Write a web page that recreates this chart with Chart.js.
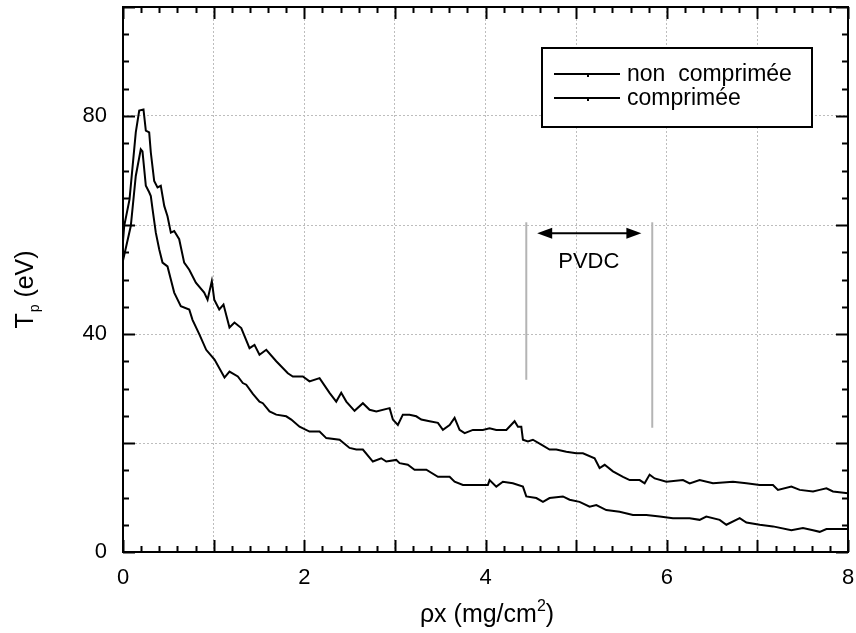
<!DOCTYPE html>
<html lang="fr">
<head>
<meta charset="UTF-8">
<title>Tp en fonction de ρx</title>
<script src="https://cdn.jsdelivr.net/npm/chart.js"></script>
<style>
  body { margin: 0; background: #fff; }
  #wrap { width: 856px; height: 633px; }
</style>
</head>
<body>
<div id="wrap"><canvas id="graphe" width="856" height="633"></canvas></div>
<script>
// valeurs (rho.x en mg/cm2, Tp en eV)
const xNonComp = [0, 0.013, 0.072, 0.141, 0.179, 0.226, 0.252, 0.289, 0.307, 0.344, 0.381, 0.417, 0.455, 0.491, 0.528, 0.565, 0.620, 0.675, 0.731, 0.804,
  0.896, 0.933, 0.980, 1.007, 1.062, 1.109, 1.175, 1.230, 1.305, 1.396, 1.451, 1.506, 1.581, 1.691, 1.819, 1.874, 1.985, 2.058, 2.169, 2.279,
  2.353, 2.408, 2.464, 2.555, 2.647, 2.721, 2.795, 2.942, 2.978, 3.033, 3.088, 3.162, 3.236, 3.291, 3.383, 3.475, 3.530, 3.604, 3.659, 3.714,
  3.770, 3.861, 3.971, 4.045, 4.119, 4.230, 4.321, 4.358, 4.395, 4.413, 4.468, 4.523, 4.616, 4.707, 4.781, 4.892, 5.002, 5.075, 5.204, 5.259,
  5.315, 5.406, 5.517, 5.591, 5.701, 5.756, 5.811, 5.867, 5.996, 6.179, 6.253, 6.363, 6.510, 6.731, 6.879, 7.026, 7.172, 7.227, 7.375, 7.467,
  7.614, 7.688, 7.762, 7.834, 8.0];
const yNonComp = [57, 59.8, 64.7, 77.0, 81.0, 81.2, 77.3, 77.0, 73.3, 68.1, 66.9, 67.2, 63.5, 61.6, 58.6, 58.9, 57.4, 53.1, 51.8, 49.4,
  47.6, 46.3, 49.7, 46.3, 44.5, 45.4, 41.2, 42.1, 41.1, 37.4, 38.0, 36.2, 37.1, 35.0, 32.8, 32.2, 32.2, 31.3, 31.9, 29.2,
  27.6, 29.2, 27.6, 25.9, 27.3, 26.1, 25.8, 26.4, 24.3, 23.3, 25.2, 25.2, 24.9, 24.3, 24.0, 23.7, 22.4, 23.3, 24.6, 22.4,
  21.8, 22.4, 22.4, 22.7, 22.4, 22.4, 24.0, 23.0, 23.0, 20.6, 20.3, 20.6, 19.7, 18.8, 18.8, 18.4, 18.1, 18.1, 17.2, 15.4,
  16.0, 14.8, 13.8, 13.2, 13.2, 12.6, 14.2, 13.5, 12.9, 13.2, 12.6, 13.2, 12.6, 12.9, 12.6, 12.3, 12.3, 11.4, 12.0, 11.4,
  11.1, 11.4, 11.7, 11.1, 10.8];

const xComp = [0, 0.086, 0.141, 0.196, 0.215, 0.252, 0.289, 0.307, 0.326, 0.362, 0.400, 0.436, 0.491, 0.528, 0.565, 0.638, 0.731, 0.767, 0.844, 0.918,
  1.010, 1.120, 1.175, 1.267, 1.322, 1.360, 1.433, 1.506, 1.543, 1.617, 1.691, 1.801, 1.857, 1.948, 2.058, 2.169, 2.243, 2.390, 2.500, 2.574,
  2.647, 2.757, 2.850, 2.905, 3.015, 3.052, 3.143, 3.217, 3.347, 3.475, 3.604, 3.659, 3.751, 3.898, 4.026, 4.045, 4.119, 4.192, 4.302, 4.413,
  4.450, 4.561, 4.634, 4.707, 4.854, 4.928, 5.038, 5.149, 5.223, 5.333, 5.480, 5.627, 5.775, 5.922, 6.068, 6.253, 6.363, 6.436, 6.584, 6.658,
  6.805, 6.879, 7.026, 7.172, 7.375, 7.503, 7.614, 7.688, 7.762, 8.0];
const yComp = [53.5, 59.8, 69.0, 73.9, 73.5, 67.2, 66.0, 65.3, 62.9, 58.6, 55.5, 53.1, 52.4, 50.0, 47.6, 45.1, 44.5, 42.6, 39.9, 37.1,
  35.3, 32.0, 33.1, 32.2, 31.0, 30.7, 29.0, 27.6, 27.3, 25.8, 25.2, 24.9, 24.3, 23.0, 22.1, 22.1, 20.9, 20.6, 19.1, 18.8,
  18.8, 16.6, 17.2, 16.6, 16.9, 16.3, 16.0, 15.1, 15.1, 13.8, 13.8, 12.9, 12.3, 12.3, 12.3, 13.2, 12.0, 12.9, 12.6, 12.0,
  10.2, 9.9, 9.2, 9.9, 10.2, 9.6, 9.2, 8.3, 8.6, 7.7, 7.4, 6.8, 6.8, 6.5, 6.2, 6.2, 5.9, 6.5, 5.9, 5.0,
  6.2, 5.4, 5.0, 4.7, 4.0, 4.4, 4.0, 3.7, 4.2, 4.2];

const seriesNames = ['non  comprimée', 'comprimée'];
const xTickLabels = [0, 2, 4, 6, 8];
const yTickLabels = [0, 40, 80];

// zone PVDC
const pvdcX = [4.45, 5.84];
const pvdcTop = [60.5, 60.5];
const pvdcBottom = [31.6, 22.8];
const arrowX = [4.57, 5.72];
const arrowY = 58.5;
const pvdcLabel = { text: 'PVDC', x: 5.14, y: 53.3 };

const police = '"Liberation Sans", Arial, sans-serif';

function toPoints(xs, ys) {
  return xs.map((x, i) => ({ x: x, y: ys[i] }));
}

// cadre, graduations interieures, legende, annotations et titres
const decorPlugin = {
  id: 'decor',
  afterDatasetsDraw(chart) {
    const ctx = chart.ctx;
    const ca = chart.chartArea;
    const xs = chart.scales.x;
    const ys = chart.scales.y;
    ctx.save();

    // lignes grises PVDC
    ctx.strokeStyle = '#b4b4b4';
    ctx.lineWidth = 2;
    for (let i = 0; i < pvdcX.length; i++) {
      const px = xs.getPixelForValue(pvdcX[i]);
      ctx.beginPath();
      ctx.moveTo(px, ys.getPixelForValue(pvdcTop[i]));
      ctx.lineTo(px, ys.getPixelForValue(pvdcBottom[i]));
      ctx.stroke();
    }

    // fleche double
    const ax1 = xs.getPixelForValue(arrowX[0]);
    const ax2 = xs.getPixelForValue(arrowX[1]);
    const ay = ys.getPixelForValue(arrowY);
    ctx.strokeStyle = '#000';
    ctx.fillStyle = '#000';
    ctx.lineWidth = 2;
    ctx.beginPath();
    ctx.moveTo(ax1 + 10, ay);
    ctx.lineTo(ax2 - 10, ay);
    ctx.stroke();
    ctx.beginPath();
    ctx.moveTo(ax1, ay);
    ctx.lineTo(ax1 + 15, ay - 5.5);
    ctx.lineTo(ax1 + 15, ay + 5.5);
    ctx.closePath();
    ctx.fill();
    ctx.beginPath();
    ctx.moveTo(ax2, ay);
    ctx.lineTo(ax2 - 15, ay - 5.5);
    ctx.lineTo(ax2 - 15, ay + 5.5);
    ctx.closePath();
    ctx.fill();

    ctx.font = '22px ' + police;
    ctx.textAlign = 'center';
    ctx.textBaseline = 'middle';
    ctx.fillText(pvdcLabel.text, xs.getPixelForValue(pvdcLabel.x), ys.getPixelForValue(pvdcLabel.y));

    // cadre
    ctx.lineWidth = 2;
    ctx.strokeRect(ca.left, ca.top, ca.right - ca.left, ca.bottom - ca.top);

    // graduations
    ctx.beginPath();
    for (let k = 0; k <= 40; k++) {
      const v = k * 0.2;
      const px = Math.round(xs.getPixelForValue(v)) + 0.5;
      const len = (k % 5 === 0) ? 12 : 6;
      ctx.moveTo(px, ca.bottom);
      ctx.lineTo(px, ca.bottom - len);
      ctx.moveTo(px, ca.top);
      ctx.lineTo(px, ca.top + len);
    }
    for (let v = 0; v <= 100; v += 5) {
      const py = Math.round(ys.getPixelForValue(v)) + 0.5;
      const len = (v % 20 === 0) ? 12 : 6;
      ctx.moveTo(ca.left, py);
      ctx.lineTo(ca.left + len, py);
      ctx.moveTo(ca.right, py);
      ctx.lineTo(ca.right - len, py);
    }
    ctx.stroke();

    // legende
    const lx = 542, ly = 48, lw = 270, lh = 79;
    ctx.fillStyle = '#fff';
    ctx.fillRect(lx, ly, lw, lh);
    ctx.strokeStyle = '#000';
    ctx.strokeRect(lx, ly, lw, lh);
    ctx.fillStyle = '#000';
    ctx.font = '23px ' + police;
    ctx.textAlign = 'left';
    ctx.textBaseline = 'middle';
    const rows = [74, 98];
    seriesNames.forEach((nom, i) => {
      ctx.beginPath();
      ctx.moveTo(554, rows[i]);
      ctx.lineTo(620, rows[i]);
      ctx.stroke();
      ctx.fillRect(587, rows[i] + 1, 2, 2);
      ctx.fillText(nom, 627, rows[i] + 1);
    });

    // titre axe x : rho x (mg/cm2)
    ctx.textBaseline = 'alphabetic';
    const partA = 'ρx (mg/cm';
    const partB = '2';
    const partC = ')';
    ctx.font = '25px ' + police;
    const wA = ctx.measureText(partA).width;
    const wC = ctx.measureText(partC).width;
    ctx.font = '16px ' + police;
    const wB = ctx.measureText(partB).width;
    let tx = 487 - (wA + wB + wC) / 2;
    const tyBase = 622;
    ctx.font = '25px ' + police;
    ctx.fillText(partA, tx, tyBase);
    tx += wA;
    ctx.font = '16px ' + police;
    ctx.fillText(partB, tx, tyBase - 11);
    tx += wB;
    ctx.font = '25px ' + police;
    ctx.fillText(partC, tx, tyBase);

    // titre axe y : T_p (eV)
    ctx.translate(33, 290);
    ctx.rotate(-Math.PI / 2);
    ctx.font = '25px ' + police;
    const wT = ctx.measureText('T').width;
    const wE = ctx.measureText(' (eV)').width;
    ctx.font = '14px ' + police;
    const wP = ctx.measureText('p').width;
    let sx = -(wT + wP + wE) / 2;
    ctx.font = '25px ' + police;
    ctx.fillText('T', sx, 0);
    sx += wT;
    ctx.font = '14px ' + police;
    ctx.fillText('p', sx + 1, 6);
    sx += wP + 1;
    ctx.font = '25px ' + police;
    ctx.fillText(' (eV)', sx, 0);

    ctx.restore();
  }
};

const ctx = document.getElementById('graphe').getContext('2d');
const graphe = new Chart(ctx, {
  type: 'line',
  data: {
    datasets: [{
      label: seriesNames[0],
      data: toPoints(xNonComp, yNonComp),
      borderColor: '#000',
      borderWidth: 2,
      pointRadius: 0,
      tension: 0
    }, {
      label: seriesNames[1],
      data: toPoints(xComp, yComp),
      borderColor: '#000',
      borderWidth: 2,
      pointRadius: 0,
      tension: 0
    }]
  },
  options: {
    responsive: false,
    animation: false,
    devicePixelRatio: 1,
    layout: { padding: { top: 7, right: 8, left: 0, bottom: 0 } },
    plugins: {
      legend: { display: false },
      tooltip: { enabled: false }
    },
    scales: {
      x: {
        type: 'linear',
        min: 0,
        max: 8,
        ticks: {
          stepSize: 1,
          autoSkip: false,
          maxRotation: 0,
          padding: 13,
          color: '#000',
          font: { family: police, size: 22 },
          callback: (v) => xTickLabels.includes(v) ? String(v) : ''
        },
        grid: { color: '#bdbdbd', lineWidth: 1, drawTicks: false },
        border: { display: false, dash: [2, 2] },
        afterFit: (scale) => {
          scale.height = 81;
          scale.paddingLeft = 0;
          scale.paddingRight = 0;
        }
      },
      y: {
        type: 'linear',
        min: 0,
        max: 100,
        ticks: {
          stepSize: 20,
          autoSkip: false,
          padding: 16,
          color: '#000',
          font: { family: police, size: 22 },
          callback: (v) => yTickLabels.includes(v) ? String(v) : ''
        },
        grid: { color: '#bdbdbd', lineWidth: 1, drawTicks: false },
        border: { display: false, dash: [2, 2] },
        afterFit: (scale) => {
          scale.width = 123;
          scale.paddingTop = 0;
          scale.paddingBottom = 0;
        }
      }
    }
  },
  plugins: [decorPlugin]
});
</script>
</body>
</html>
